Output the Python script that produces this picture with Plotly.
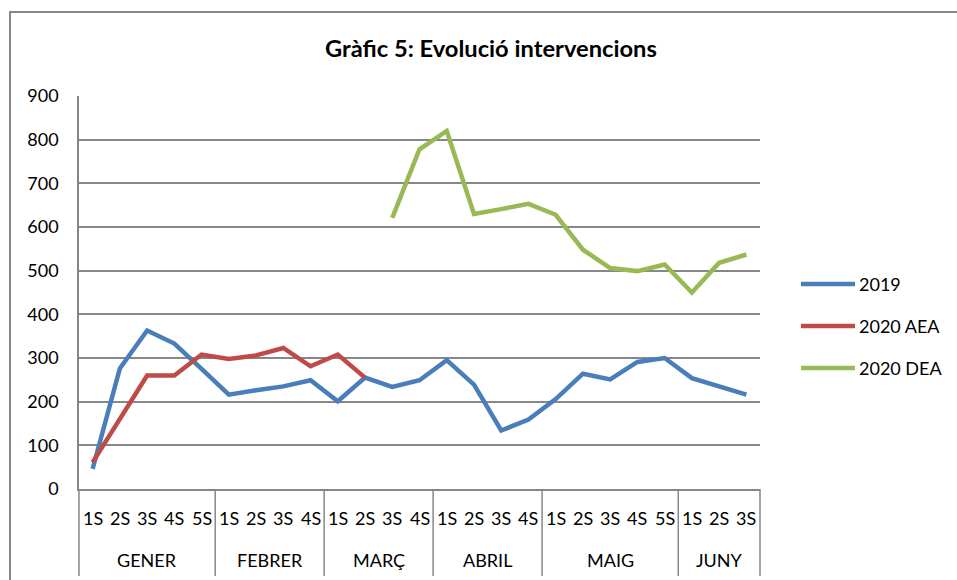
import plotly.graph_objects as go

months = ["GENER", "FEBRER", "MARÇ", "ABRIL", "MAIG", "JUNY"]
weeks_per_month = [5, 4, 4, 4, 5, 3]
week_labels = ["1S", "2S", "3S", "4S", "5S"]

s2019 = [46, 276, 363, 333, 275, 216, 226, 235, 249, 201, 255, 234, 249,
         295, 239, 134, 159, 206, 264, 251, 291, 300, 254, 234, 216]
s2020_aea = [61, 160, 260, 260, 308, 298, 306, 323, 281, 308, 255]
s2020_dea = [None] * 11 + [621, 778, 820, 630, 641, 653, 628, 548, 506, 499,
                           514, 450, 518, 537]

series_names = ["2019", "2020 AEA", "2020 DEA"]
colors = ["#4A7EBB", "#BE4B48", "#98B954"]

cats, inner = [], []
for m, n in zip(months, weeks_per_month):
    for w in week_labels[:n]:
        cats.append(f"{m} {w}")
        inner.append(w)

N = len(cats)
W, H = 957, 580
L, R, T, B = 79, 197, 96, 91
pw, ph = W - L - R, H - T - B

def py(pix):  # pixel y -> paper y
    return (H - B - pix) / ph

def px(pix):
    return (pix - L) / pw

FONT = "Lato, 'Open Sans', sans-serif"
GRID = "#878787"
FS = 18

fig = go.Figure()
for name, vals, col in zip(series_names, [s2019, s2020_aea, s2020_dea], colors):
    fig.add_trace(go.Scatter(
        x=cats[:len(vals)], y=vals, name=name, mode="lines",
        line=dict(color=col, width=4.5), showlegend=False,
        connectgaps=False,
    ))

annotations = []
shapes = []
# inner (week) labels
for c, w in zip(cats, inner):
    annotations.append(dict(x=c, y=py(518), xref="x", yref="paper", text=w,
                            xanchor="center", yanchor="middle",
                            showarrow=False, font=dict(size=FS, color="black", family=FONT)))
# outer (month) labels and dividers
start = 0
bounds = [0]
for m, n in zip(months, weeks_per_month):
    mid = (start + start + n) / 2 / N
    annotations.append(dict(x=mid, y=py(560), xref="paper", yref="paper", text=m,
                            xanchor="center", yanchor="middle",
                            showarrow=False, font=dict(size=FS, color="black", family=FONT)))
    start += n
    bounds.append(start)
for b in bounds:
    shapes.append(dict(type="line", xref="paper", yref="paper", x0=b / N, x1=b / N,
                       y0=0, y1=py(576), line=dict(color=GRID, width=1.5)))
# outer chart border (top and left edges visible)
shapes.append(dict(type="line", xref="paper", yref="paper", x0=px(10), x1=px(957),
                   y0=py(12), y1=py(12), line=dict(color=GRID, width=2)))
shapes.append(dict(type="line", xref="paper", yref="paper", x0=px(10), x1=px(10),
                   y0=py(11), y1=py(580), line=dict(color=GRID, width=2)))

# legend (drawn manually to match long line samples)
for i, (name, col) in enumerate(zip(series_names, colors)):
    yy = py(284 + 42 * i)
    shapes.append(dict(type="line", xref="paper", yref="paper", x0=px(801), x1=px(855),
                       y0=yy, y1=yy, line=dict(color=col, width=4.5)))
    annotations.append(dict(x=px(857), y=yy, xref="paper", yref="paper", text=name,
                            xanchor="left", yanchor="middle", showarrow=False,
                            font=dict(size=FS, color="black", family=FONT)))

annotations.append(dict(x=px(491), y=py(48), xref="paper", yref="paper",
                        text="<b>Gràfic 5: Evolució intervencions</b>", showarrow=False,
                        xanchor="center", yanchor="middle",
                        font=dict(size=23.7, color="black", family=FONT)))

fig.update_layout(
    width=W, height=H,
    margin=dict(l=L, r=R, t=T, b=B, autoexpand=False),
    paper_bgcolor="white", plot_bgcolor="white",
    font=dict(family=FONT, size=FS, color="black"),
    showlegend=False,
    annotations=annotations,
    shapes=shapes,
)
fig.update_xaxes(type="category", categoryorder="array", categoryarray=cats,
                 range=[-0.5, N - 0.5], showticklabels=False, showgrid=False,
                 showline=True, linecolor=GRID, linewidth=1.5, zeroline=False, ticks="")
fig.update_yaxes(range=[0, 900], dtick=100, showgrid=True, gridcolor=GRID, gridwidth=1.5,
                 showline=True, linecolor=GRID, linewidth=1.5, zeroline=False,
                 ticks="", ticklabelstandoff=15,
                 tickfont=dict(size=FS, family=FONT, color="black"))

fig.write_html("out.html", config={"displayModeBar": False},
               post_script="document.body.style.margin='0';")
